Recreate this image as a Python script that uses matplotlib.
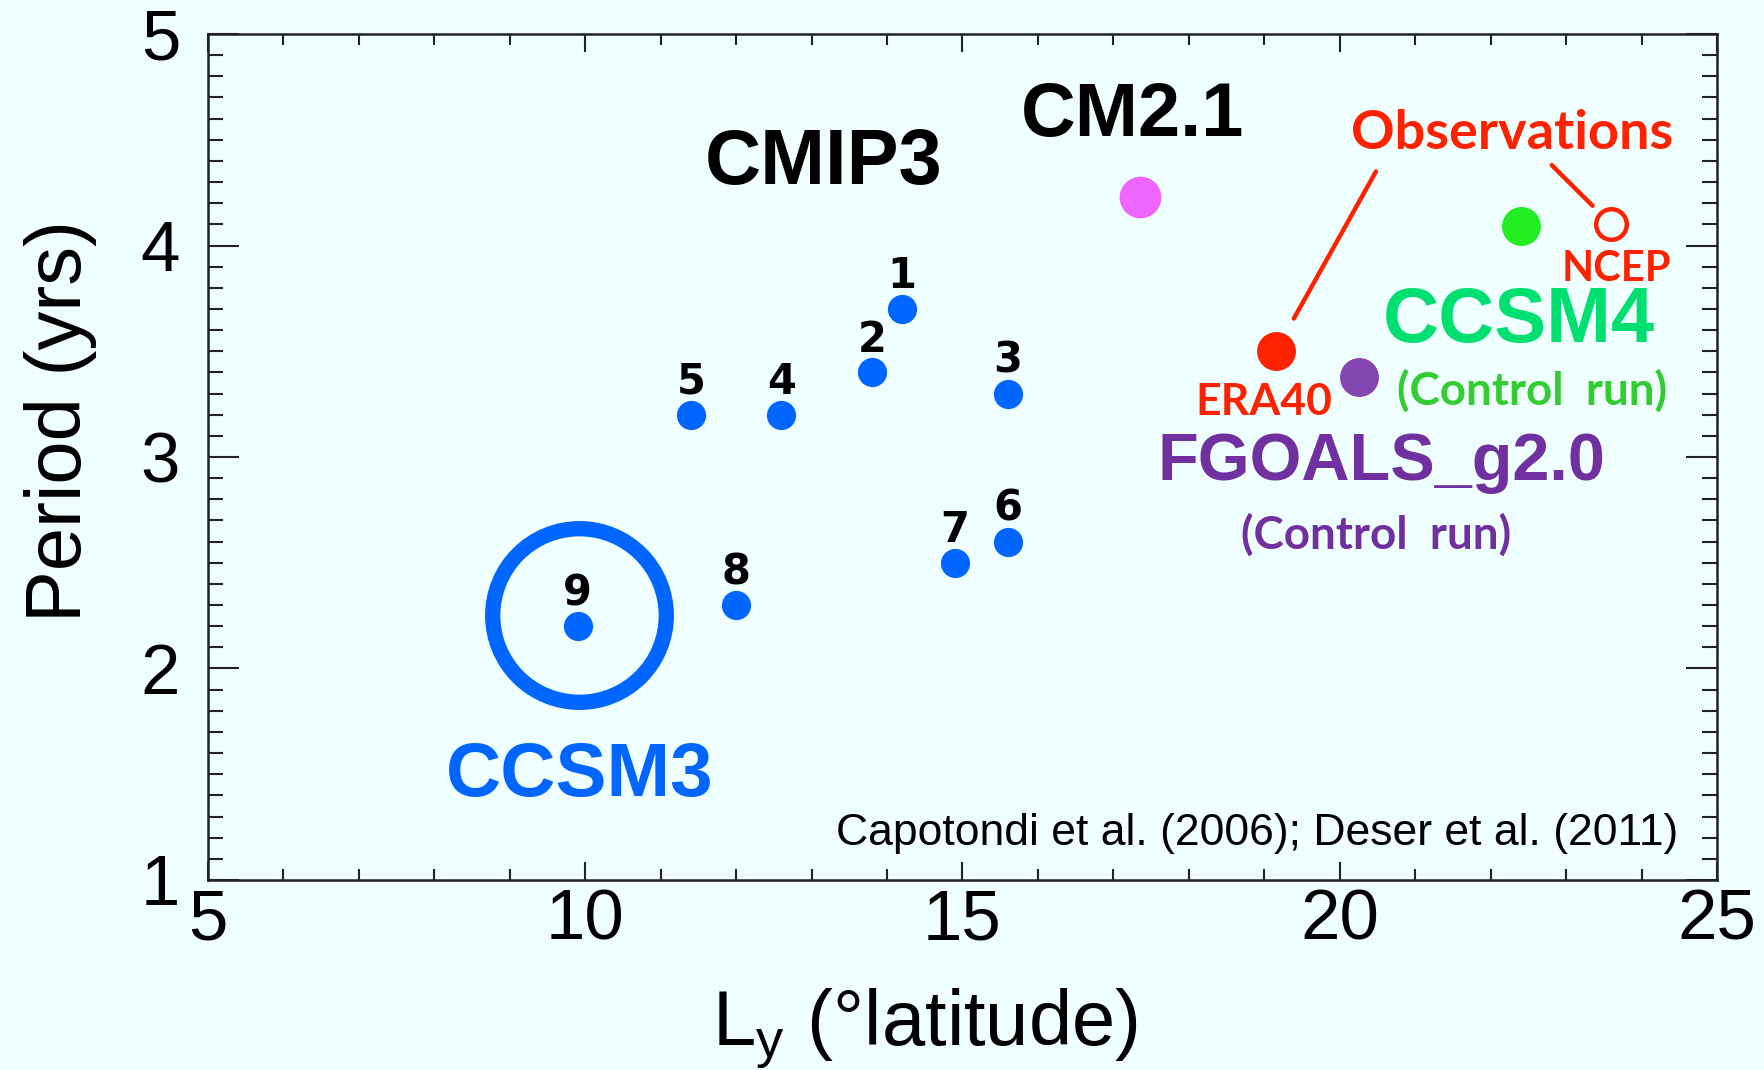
import matplotlib
matplotlib.use("Agg")
import matplotlib.pyplot as plt
import matplotlib.transforms as mtransforms
from matplotlib import font_manager
from matplotlib.ticker import MultipleLocator

# CMIP3 models, numbered 1-9 (no. 9 is CCSM3)
cmip3_num = ["1", "2", "3", "4", "5", "6", "7", "8", "9"]
cmip3_ly = [14.2, 13.8, 15.6, 12.6, 11.4, 15.6, 14.9, 12.0, 9.9]
cmip3_per = [3.7, 3.4, 3.3, 3.2, 3.2, 2.6, 2.5, 2.3, 2.2]

# other models / observations
cm21 = (17.35, 4.23)
era40 = (19.15, 3.5)
ncep = (23.6, 4.1)
ccsm4 = (22.4, 4.09)
fgoals = (20.25, 3.38)

xticks = [5, 10, 15, 20, 25]
yticks = [1, 2, 3, 4, 5]

names = {f.name for f in font_manager.fontManager.ttflist}
arial = "Liberation Sans"
narrow = "Liberation Sans Narrow" if "Liberation Sans Narrow" in names else arial
calibri = "Lato" if "Lato" in names else arial

plt.rcParams["font.family"] = [arial, "DejaVu Sans"]
plt.rcParams["mathtext.fontset"] = "custom"
plt.rcParams["mathtext.rm"] = arial

bg = "#EFFEFE"
blue = "#0066FF"
red = "#FF2200"

fig = plt.figure(figsize=(17.65, 10.7), dpi=100, facecolor=bg)
ax = fig.add_axes([0.1178, 0.1776, 0.855, 0.7906], facecolor=bg)

ax.set_xlim(5, 25)
ax.set_ylim(1, 5)
ax.set_xticks(xticks)
ax.set_yticks(yticks)
ax.xaxis.set_minor_locator(MultipleLocator(1))
ax.yaxis.set_minor_locator(MultipleLocator(0.1))
ax.tick_params(axis="both", which="both", direction="in", top=True, right=True,
               width=1.5, color="#222222")
ax.tick_params(axis="x", which="major", length=13, labelsize=51, pad=6)
ax.tick_params(axis="x", which="minor", length=8)
ax.tick_params(axis="y", which="major", length=22, labelsize=51, pad=20)
ax.tick_params(axis="y", which="minor", length=11)
for s in ax.spines.values():
    s.set_linewidth(1.8)
    s.set_color("#222222")

ax.set_ylabel("Period (yrs)", fontsize=56)
ax.yaxis.set_label_coords(-0.0736, 0.5426)
ax.set_xlabel(r"L$_\mathregular{y}$ (°latitude)", fontsize=56, ha="left", va="baseline")
ax.xaxis.set_label_coords(0.334, -0.195)

# CMIP3 points and their numbers
ax.plot(cmip3_ly, cmip3_per, "o", ms=20, color=blue, zorder=3)
for n, x, y in zip(cmip3_num, cmip3_ly, cmip3_per):
    ax.annotate(n, (x, y), xytext=(0, 15), textcoords="offset points",
                ha="center", va="baseline", fontsize=30, fontweight="bold",
                family="DejaVu Sans", color="black")

# big ring around CCSM3 (model 9)
ring = mtransforms.offset_copy(ax.transData, fig=fig, x=1, y=8, units="points")
ax.plot(cmip3_ly[-1], cmip3_per[-1], "o", ms=125, mfc="none", mec=blue,
        mew=11, transform=ring, zorder=2)

ax.plot(*cm21, "o", ms=29, color="#EE66FF", zorder=3)
ax.plot(*era40, "o", ms=27, color=red, zorder=3)
ax.plot(*fgoals, "o", ms=27, color="#8446B0", zorder=3)
ax.plot(*ccsm4, "o", ms=27, color="#22EE22", zorder=3)
ax.plot(*ncep, "o", ms=22, mfc="none", mec=red, mew=3.2, zorder=3)

# labels
ax.text(13.16, 4.39, "CMIP3", fontsize=56, fontweight="bold", ha="center", va="center")
ax.text(17.25, 4.61, "CM2.1", fontsize=54.5, fontweight="bold", ha="center", va="center")
ax.text(22.28, 4.53, "Observations", fontsize=39, fontweight="bold", color=red,
        family=calibri, ha="center", va="center")
ax.text(23.66, 3.89, "NCEP", fontsize=30, fontweight="bold", color=red,
        family=calibri, ha="center", va="center")
ax.text(22.37, 3.64, "CCSM4", fontsize=56, fontweight="bold", color="#00E070",
        ha="center", va="center")
ax.text(19.0, 3.26, "ERA40", fontsize=32, fontweight="bold", color=red,
        family=calibri, ha="center", va="center")
ax.text(22.55, 3.31, "(Control  run)", fontsize=33, fontweight="bold", color="#33CC33",
        family=calibri, ha="center", va="center")
ax.text(20.55, 2.97, "FGOALS_g2.0", fontsize=48, fontweight="bold", color="#7030A0",
        ha="center", va="center")
ax.text(20.48, 2.63, "(Control  run)", fontsize=33, fontweight="bold", color="#7030A0",
        family=calibri, ha="center", va="center")
ax.text(9.93, 1.49, "CCSM3", fontsize=55, fontweight="bold", color=blue,
        ha="center", va="center")
ax.text(24.49, 1.22, "Capotondi et al. (2006); Deser et al. (2011)", fontsize=32,
        family=narrow, ha="right", va="center")

# pointer lines from "Observations"
ax.annotate("", xy=era40, xytext=(20.48, 4.35),
            arrowprops=dict(arrowstyle="-", color=red, lw=3.2, shrinkA=0, shrinkB=27))
ax.annotate("", xy=ncep, xytext=(22.81, 4.38),
            arrowprops=dict(arrowstyle="-", color=red, lw=3.2, shrinkA=0, shrinkB=19))

fig.savefig("out.png", dpi=100, facecolor=bg)
